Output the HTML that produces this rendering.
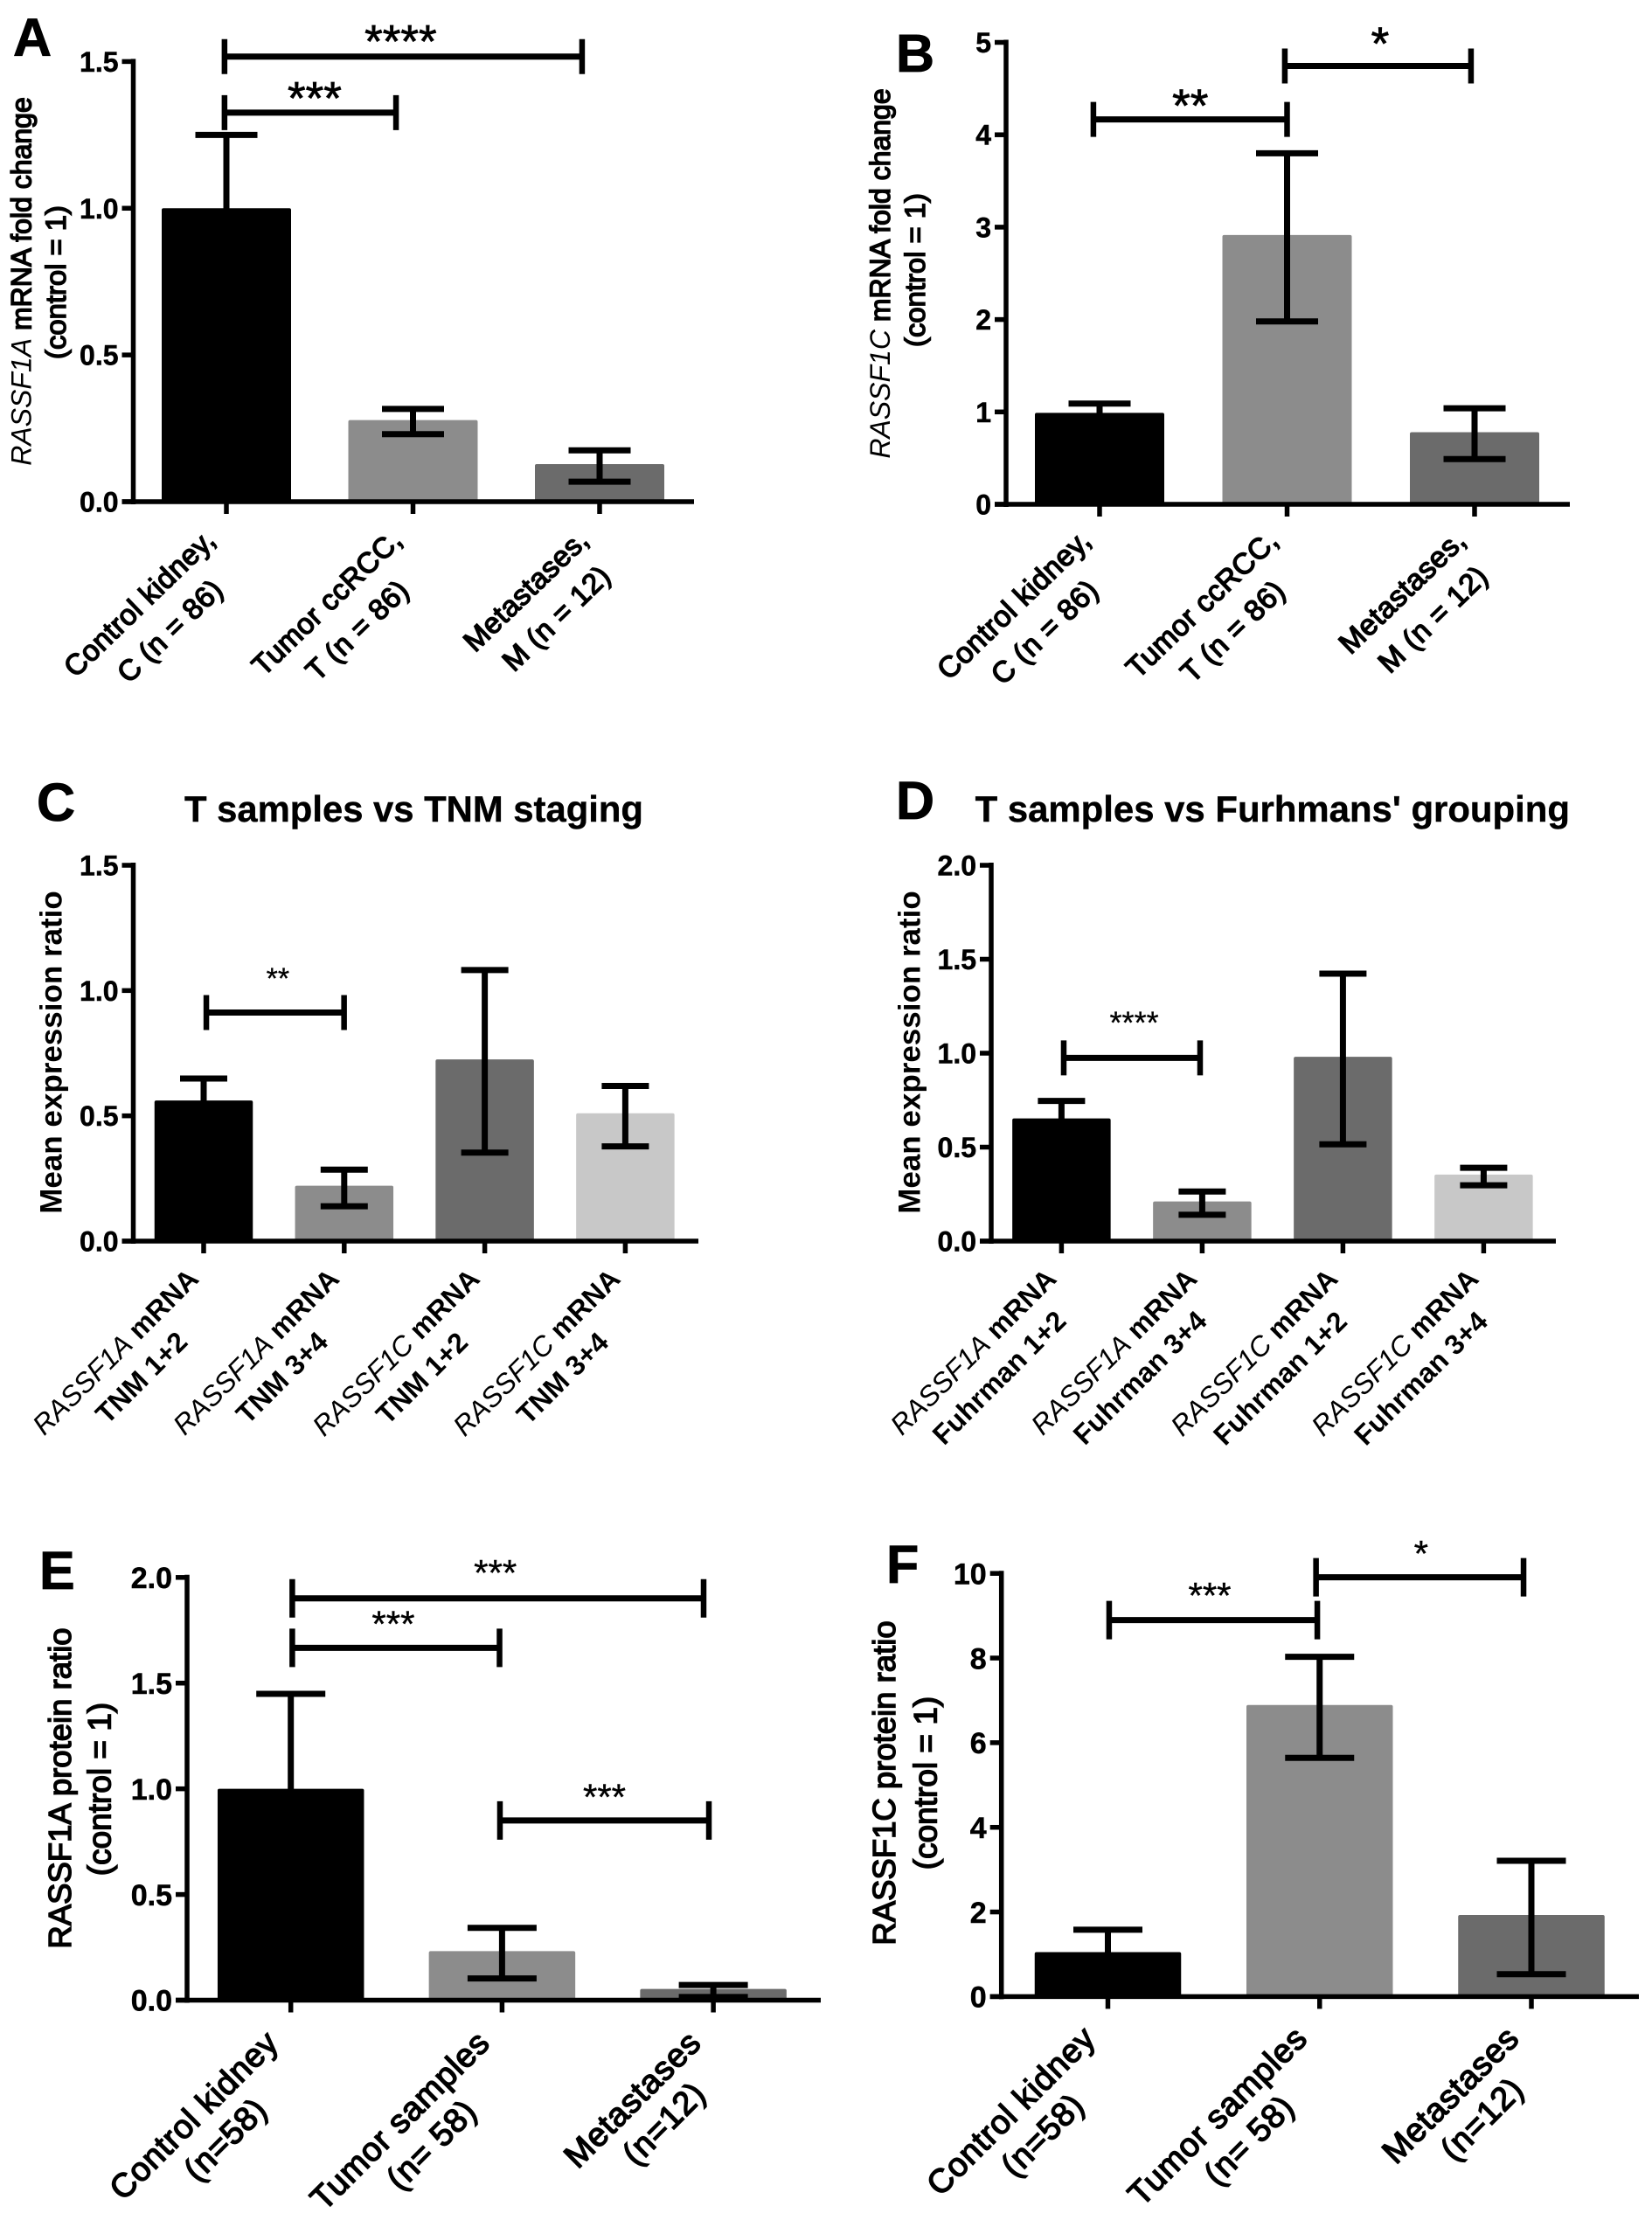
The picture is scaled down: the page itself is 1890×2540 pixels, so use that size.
<!DOCTYPE html>
<html lang="en">
<head>
<meta charset="utf-8">
<title>RASSF1A and RASSF1C expression panels</title>
<style>
html,body{margin:0;padding:0;background:#fff;}
svg{display:block;}
text{font-family:"Liberation Sans",sans-serif;fill:#000;}
</style>
</head>
<body>
<svg id="figure" xmlns="http://www.w3.org/2000/svg" width="1890" height="2540" viewBox="0 0 1890 2540">
<rect x="0" y="0" width="1890" height="2540" fill="#fff"/>
</svg>
<script>
/* ---------- Panel A data ---------- */
const panelACategories = [["Control kidney,", "C (n = 86)"], ["Tumor ccRCC,", "T (n = 86)"], ["Metastases,", "M (n = 12)"]];
const panelAMeans = [1.0, 0.278, 0.128];
const panelAErrHigh = [1.25, 0.316, 0.175];
const panelAErrLow = [0.75, 0.23, 0.068];
const panelATicks = ["0.0", "0.5", "1.0", "1.5"];
const panelABracketFrom = [-0.01, -0.01];
const panelABracketTo = [1.906, 0.909];
const panelABracketLevel = [1.517, 1.326];
const panelABracketStars = ["****", "***"];
/* ---------- Panel B data ---------- */
const panelBCategories = [["Control kidney,", "C (n = 86)"], ["Tumor ccRCC,", "T (n = 86)"], ["Metastases,", "M (n = 12)"]];
const panelBMeans = [0.99, 2.915, 0.78];
const panelBErrHigh = [1.09, 3.80, 1.04];
const panelBErrLow = [0.89, 1.98, 0.49];
const panelBTicks = ["0", "1", "2", "3", "4", "5"];
const panelBBracketFrom = [-0.033, 0.988];
const panelBBracketTo = [1.0, 1.981];
const panelBBracketLevel = [4.166, 4.745];
const panelBBracketStars = ["**", "*"];
/* ---------- Panel C data ---------- */
const panelCCategories = [["<i>RASSF1A</i> mRNA", "TNM 1+2"], ["<i>RASSF1A</i> mRNA", "TNM 3+4"], ["<i>RASSF1C</i> mRNA", "TNM 1+2"], ["<i>RASSF1C</i> mRNA", "TNM 3+4"]];
const panelCMeans = [0.561, 0.221, 0.725, 0.51];
const panelCErrHigh = [0.649, 0.285, 1.082, 0.619];
const panelCErrLow = [0.47, 0.139, 0.353, 0.378];
const panelCTicks = ["0.0", "0.5", "1.0", "1.5"];
const panelCBracketFrom = [0.019];
const panelCBracketTo = [0.999];
const panelCBracketLevel = [0.912];
const panelCBracketStars = ["**"];
/* ---------- Panel D data ---------- */
const panelDCategories = [["<i>RASSF1A</i> mRNA", "Fuhrman 1+2"], ["<i>RASSF1A</i> mRNA", "Fuhrman 3+4"], ["<i>RASSF1C</i> mRNA", "Fuhrman 1+2"], ["<i>RASSF1C</i> mRNA", "Fuhrman 3+4"]];
const panelDMeans = [0.653, 0.211, 0.981, 0.354];
const panelDErrHigh = [0.746, 0.264, 1.423, 0.39];
const panelDErrLow = [0.56, 0.14, 0.515, 0.297];
const panelDTicks = ["0.0", "0.5", "1.0", "1.5", "2.0"];
const panelDBracketFrom = [0.016];
const panelDBracketTo = [0.985];
const panelDBracketLevel = [0.975];
const panelDBracketStars = ["****"];
/* ---------- Panel E data ---------- */
const panelECategories = [["Control kidney", "(n=58)"], ["Tumor samples", "(n= 58)"], ["Metastases", "(n=12)"]];
const panelEMeans = [1.0, 0.232, 0.053];
const panelEErrHigh = [1.449, 0.342, 0.072];
const panelEErrLow = [0.55, 0.103, 0.015];
const panelETicks = ["0.0", "0.5", "1.0", "1.5", "2.0"];
const panelEBracketFrom = [0.007, 0.007, 0.99];
const panelEBracketTo = [1.954, 0.988, 1.979];
const panelEBracketLevel = [1.901, 1.667, 0.85];
const panelEBracketStars = ["***", "***", "***"];
/* ---------- Panel F data ---------- */
const panelFCategories = [["Control kidney", "(n=58)"], ["Tumor samples", "(n= 58)"], ["Metastases", "(n=12)"]];
const panelFMeans = [1.05, 6.89, 1.93];
const panelFErrHigh = [1.58, 8.03, 3.21];
const panelFErrLow = [0.5, 5.64, 0.53];
const panelFTicks = ["0", "2", "4", "6", "8", "10"];
const panelFBracketFrom = [0.006, 0.983];
const panelFBracketTo = [0.989, 1.963];
const panelFBracketLevel = [8.897, 9.909];
const panelFBracketStars = ["***", "*"];

/* Fill colours in drawing order */
const threeBarFills = ["#000000", "#8c8c8c", "#6b6b6b"];
const fourBarFills = ["#000000", "#8c8c8c", "#6b6b6b", "#c8c8c8"];

const NS = "http://www.w3.org/2000/svg";
const svg = document.getElementById("figure");

function mk(parent, tag, attrs) {
  const el = document.createElementNS(NS, tag);
  for (const k in attrs) el.setAttribute(k, attrs[k]);
  parent.appendChild(el);
  return el;
}

/* Adds styled runs: <i> regular italic; medium = regular weight with outline, else bold */
function addRuns(textEl, markup, medium) {
  const parts = markup.split(/(<i>.*?<\/i>)/).filter(s => s.length);
  parts.forEach(part => {
    const span = document.createElementNS(NS, "tspan");
    if (part.startsWith("<i>")) {
      span.setAttribute("font-style", "italic");
      span.setAttribute("font-weight", "normal");
      span.textContent = part.slice(3, -4);
    } else if (medium) {
      span.setAttribute("font-weight", "normal");
      span.setAttribute("stroke", "#000");
      span.setAttribute("stroke-width", "1.5");
      span.textContent = part;
    } else {
      span.setAttribute("font-weight", "bold");
      span.textContent = part;
    }
    textEl.appendChild(span);
  });
}

function drawPanel(p) {
  const g = mk(svg, "g", {});
  
  

  const maxV = Math.max.apply(null, p.ticks.map(parseFloat));
  const yS = v => p.y0 - (v / maxV) * (p.y0 - p.yTop);
  const xS = i => p.x0 + i * p.dx;

  /* panel letter */
  const letter = mk(g, "text", {x: p.letter[0], y: p.letter[1], "font-size": 61, "font-weight": "bold", stroke: "#000", "stroke-width": 0.8});
  letter.textContent = p.id;
  
  

  /* title */
  if (p.title) {
    const title = mk(g, "text", {x: p.title.x, y: p.title.y, "font-size": p.title.fs, "font-weight": "bold", stroke: "#000", "stroke-width": 0.4});
    title.textContent = p.title.text;
    
    
  }

  /* bars */
  p.means.forEach((m, i) => {
    const top = yS(m);
    const bar = mk(g, "rect", {x: xS(i) - p.barW / 2, y: top, width: p.barW, height: p.y0 - top, rx: 2, fill: p.fills[i]});
    
    
  });

  /* error bars */
  p.means.forEach((m, i) => {
    const cx = xS(i);
    const hi = yS(p.errHigh[i]);
    const lo = yS(p.errLow[i]);
    const stem = mk(g, "line", {x1: cx, x2: cx, y1: hi, y2: lo, stroke: "#000", "stroke-width": 7});
    
    
    const capHi = mk(g, "line", {x1: cx - p.capW / 2, x2: cx + p.capW / 2, y1: hi, y2: hi, stroke: "#000", "stroke-width": 7});
    
    
    const capLo = mk(g, "line", {x1: cx - p.capW / 2, x2: cx + p.capW / 2, y1: lo, y2: lo, stroke: "#000", "stroke-width": 7});
    
    
  });

  /* axes */
  const yAxis = mk(g, "line", {x1: p.axisX, x2: p.axisX, y1: p.yTop - 3, y2: p.y0 + 3, stroke: "#000", "stroke-width": 5.5});
  
  
  const xAxis = mk(g, "line", {x1: p.axisX - 13, x2: p.xEnd, y1: p.y0, y2: p.y0, stroke: "#000", "stroke-width": 5.5});
  
  

  /* y ticks */
  p.ticks.forEach(label => {
    const y = yS(parseFloat(label));
    const tick = mk(g, "line", {x1: p.axisX - 13, x2: p.axisX, y1: y, y2: y, stroke: "#000", "stroke-width": 5.5});
    
    
    const t = mk(g, "text", {x: p.axisX - 17, y: y + p.tickFs * 0.36, "font-size": p.tickFs, "font-weight": "bold", "text-anchor": "end", stroke: "#000", "stroke-width": 0.5});
    t.textContent = label;
    
    
  });

  /* x ticks and rotated labels */
  p.categories.forEach((lines, i) => {
    const cx = xS(i);
    const tick = mk(g, "line", {x1: cx, x2: cx, y1: p.y0, y2: p.y0 + 14, stroke: "#000", "stroke-width": 5.5});
    
    

    const group = mk(g, "g", {transform: "translate(" + (cx + p.labelAnchor[0]) + " " + (p.y0 + p.labelAnchor[1]) + ") rotate(" + (-p.labelRot) + ")"});
    
    
    const texts = lines.map((line, j) => {
      const t = mk(group, "text", {x: 0, y: j * p.labelLine, "font-size": p.labelFs, "text-anchor": "middle", "letter-spacing": p.labelSpacing});
      addRuns(t, line, p.labelMedium);
      
      
      return t;
    });
    const w = Math.max.apply(null, texts.map(t => t.getComputedTextLength()));
    texts.forEach((t, j) => t.setAttribute("x", -w / 2 + j * p.line2Shift));
  });

  /* y-axis titles */
  p.yTitles.forEach((yt, j) => {
    const t = mk(g, "text", {transform: "translate(" + (yt.cx + yt.fs * 0.36) + " " + yt.cy + ") rotate(-90)", "font-size": yt.fs, "text-anchor": "middle"});
    addRuns(t, yt.text, yt.medium);
    
    
  });

  /* significance brackets */
  p.bracketLevel.forEach((lvl, j) => {
    const xa = xS(p.bracketFrom[j]);
    const xb = xS(p.bracketTo[j]);
    const y = yS(lvl);
    const h = mk(g, "line", {x1: xa, x2: xb, y1: y, y2: y, stroke: "#000", "stroke-width": 7});
    
    
    [xa, xb].forEach((x, k) => {
      const v = mk(g, "line", {x1: x, x2: x, y1: y - p.bracketEnd, y2: y + p.bracketEnd, stroke: "#000", "stroke-width": 6.5});
      
      
    });
    const cy = y - p.starGaps[j];
    const s = mk(g, "text", {x: (xa + xb) / 2 + p.starShift[j], y: cy + p.starFs * 0.58, "font-size": p.starFs, "text-anchor": "middle", stroke: "#000", "stroke-width": p.starStroke});
    s.textContent = p.bracketStars[j];
    
    
  });
}

function draw() {
  drawPanel({
    id: "A", letter: [15, 64], axisX: 152.5, y0: 574, yTop: 70.4, xEnd: 794, x0: 259, dx: 213.5,
    barW: 148, capW: 71, tickFs: 32, labelFs: 33, labelSpacing: 0.5, labelMedium: true, labelRot: 44, labelLine: 47, labelAnchor: [-10.6, 46], line2Shift: 3,
    bracketEnd: 20, starFs: 53, starStroke: 0.8, starGaps: [30, 29], starShift: [-3, 5],
    yTitles: [{text: "<i>RASSF1A</i> mRNA fold change", cx: 24, cy: 322, fs: 32, medium: true}, {text: "(control = 1)", cx: 63, cy: 323, fs: 32.8, medium: true}],
    categories: panelACategories, means: panelAMeans, errHigh: panelAErrHigh, errLow: panelAErrLow, ticks: panelATicks,
    bracketFrom: panelABracketFrom, bracketTo: panelABracketTo, bracketLevel: panelABracketLevel, bracketStars: panelABracketStars, fills: threeBarFills
  });
  drawPanel({
    id: "B", letter: [1025, 82], axisX: 1151, y0: 577, yTop: 48.5, xEnd: 1796, x0: 1258, dx: 214.5,
    barW: 148, capW: 71, tickFs: 32, labelFs: 33.5, labelSpacing: 0.5, labelMedium: true, labelRot: 44, labelLine: 47, labelAnchor: [-8, 43.6], line2Shift: 3.5,
    bracketEnd: 20, starFs: 53, starStroke: 0.8, starGaps: [28.5, 38], starShift: [0, 2.5],
    yTitles: [{text: "<i>RASSF1C</i> mRNA fold change", cx: 1006.5, cy: 313, fs: 32, medium: true}, {text: "(control = 1)", cx: 1046, cy: 309, fs: 32.8, medium: true}],
    categories: panelBCategories, means: panelBMeans, errHigh: panelBErrHigh, errLow: panelBErrLow, ticks: panelBTicks,
    bracketFrom: panelBBracketFrom, bracketTo: panelBBracketTo, bracketLevel: panelBBracketLevel, bracketStars: panelBBracketStars, fills: threeBarFills
  });
  drawPanel({
    id: "C", letter: [42, 939], axisX: 152.5, y0: 1420, yTop: 990, xEnd: 799, x0: 233, dx: 160.8,
    barW: 112.5, capW: 54, tickFs: 32, labelFs: 32, labelSpacing: 0, labelMedium: false, labelRot: 45, labelLine: 42, labelAnchor: [-4, 45], line2Shift: 0,
    bracketEnd: 20, starFs: 34, starStroke: 0.3, starGaps: [47.5], starShift: [3],
    title: {text: "T samples vs TNM staging", x: 211, y: 940, fs: 41.8},
    yTitles: [{text: "Mean expression ratio", cx: 58, cy: 1204, fs: 35}],
    categories: panelCCategories, means: panelCMeans, errHigh: panelCErrHigh, errLow: panelCErrLow, ticks: panelCTicks,
    bracketFrom: panelCBracketFrom, bracketTo: panelCBracketTo, bracketLevel: panelCBracketLevel, bracketStars: panelCBracketStars, fills: fourBarFills
  });
  drawPanel({
    id: "D", letter: [1025, 937], axisX: 1134, y0: 1420, yTop: 990, xEnd: 1780, x0: 1214.4, dx: 161,
    barW: 112.5, capW: 54, tickFs: 32, labelFs: 32, labelSpacing: 0, labelMedium: false, labelRot: 45, labelLine: 42, labelAnchor: [-4, 45], line2Shift: 0,
    bracketEnd: 20, starFs: 36, starStroke: 0.3, starGaps: [49], starShift: [2.6],
    title: {text: "T samples vs Furhmans' grouping", x: 1115.6, y: 940, fs: 41.9},
    yTitles: [{text: "Mean expression ratio", cx: 1040, cy: 1204, fs: 35}],
    categories: panelDCategories, means: panelDMeans, errHigh: panelDErrHigh, errLow: panelDErrLow, ticks: panelDTicks,
    bracketFrom: panelDBracketFrom, bracketTo: panelDBracketTo, bracketLevel: panelDBracketLevel, bracketStars: panelDBracketStars, fills: fourBarFills
  });
  drawPanel({
    id: "E", letter: [45, 1818], axisX: 214, y0: 2288.5, yTop: 1804.8, xEnd: 939, x0: 332.7, dx: 241.7,
    barW: 167.5, capW: 79, tickFs: 34, labelFs: 38, labelSpacing: 0.8, labelMedium: true, labelRot: 45, labelLine: 45, labelAnchor: [-12, 51], line2Shift: 6,
    bracketEnd: 22, starFs: 42, starStroke: 0.4, starGaps: [39, 37, 37], starShift: [-3, -3, 0],
    yTitles: [{text: "RASSF1A protein ratio", cx: 68, cy: 2046, fs: 36.5, medium: true}, {text: "(control = 1)", cx: 113, cy: 2047, fs: 37, medium: true}],
    categories: panelECategories, means: panelEMeans, errHigh: panelEErrHigh, errLow: panelEErrLow, ticks: panelETicks,
    bracketFrom: panelEBracketFrom, bracketTo: panelEBracketTo, bracketLevel: panelEBracketLevel, bracketStars: panelEBracketStars, fills: threeBarFills
  });
  drawPanel({
    id: "F", letter: [1014, 1811], axisX: 1145.7, y0: 2284.4, yTop: 1800.2, xEnd: 1875, x0: 1267.5, dx: 242.25,
    barW: 167.5, capW: 79, tickFs: 34, labelFs: 38, labelSpacing: 0.8, labelMedium: true, labelRot: 45, labelLine: 45, labelAnchor: [-12, 50], line2Shift: 6,
    bracketEnd: 22, starFs: 42, starStroke: 0.4, starGaps: [38, 37], starShift: [-4, 1.5],
    yTitles: [{text: "RASSF1C protein ratio", cx: 1011, cy: 2040, fs: 36.5, medium: true}, {text: "(control = 1)", cx: 1058, cy: 2040, fs: 37, medium: true}],
    categories: panelFCategories, means: panelFMeans, errHigh: panelFErrHigh, errLow: panelFErrLow, ticks: panelFTicks,
    bracketFrom: panelFBracketFrom, bracketTo: panelFBracketTo, bracketLevel: panelFBracketLevel, bracketStars: panelFBracketStars, fills: threeBarFills
  });
}
draw();
</script>
</body>
</html>
